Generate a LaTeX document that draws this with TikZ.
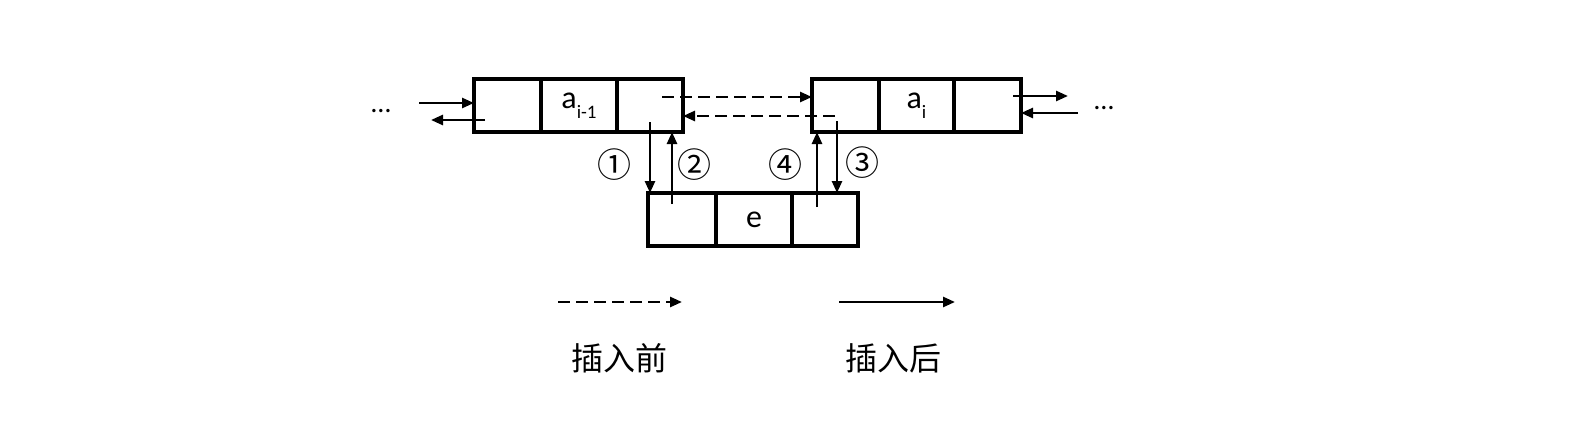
\documentclass[tikz,border=0pt]{standalone}
\usepackage{fontspec}
\setmainfont{Carlito}
\newfontfamily\cjkfont{Noto Sans CJK SC}
\usetikzlibrary{positioning,arrows.meta}

\newcommand{\subtxt}[1]{\raisebox{-5pt}{\fontsize{9.5}{9.5}\selectfont #1}}

\begin{document}
\begin{tikzpicture}[x=0.5pt,y=-0.5pt,
        cell/.style={draw,line width=1.6pt,minimum height=26.5pt,outer sep=0pt,inner sep=0pt,font=\fontsize{16}{16}\selectfont},
        link/.style={line width=1.3pt,-{Triangle[length=6pt,width=5pt]}},
        old/.style={link,dash pattern=on 6pt off 3pt},
        num/.style={font=\cjkfont\fontsize{17}{17}\selectfont},
        tag/.style={font=\cjkfont\fontsize{16}{16}\selectfont}]
                    \useasboundingbox (0,0) rectangle (1586,439);

                    % node a_{i-1}
                    \node[cell,minimum width=33.5pt] (p1) at (507.5,105.5) {};
                    \node[cell,minimum width=38pt,right=0pt of p1] (p2) {a\subtxt{i-1}};
                    \node[cell,minimum width=33pt,right=0pt of p2] (p3) {};

                    % node a_i
                    \node[cell,minimum width=33.5pt] (q1) at (845.5,105.5) {};
                    \node[cell,minimum width=37.5pt,right=0pt of q1] (q2) {a\subtxt{i}};
                    \node[cell,minimum width=33.5pt,right=0pt of q2] (q3) {};

                    % node e
                    \node[cell,minimum width=34pt] (r1) at (682,219.5) {};
                    \node[cell,minimum width=38pt,right=0pt of r1] (r2) {e};
                    \node[cell,minimum width=33pt,right=0pt of r2] (r3) {};

                    \node[font=\fontsize{14}{14}\selectfont] (dl) at (381,111) {\dots};
                    \node[font=\fontsize{14}{14}\selectfont] (dr) at (1104,108) {\dots};

                    \coordinate (l1) at (419,103);
                    \coordinate (l2) at (485,120);
                    \coordinate (l3) at (431,120);
                    \coordinate (m1) at (1013,96);
                    \coordinate (m2) at (1068,96);
                    \coordinate (m3) at (1078,113);
                    \draw[link] (l1) -- (p1.west |- l1);
                    \draw[link] (l2) -- (l3);
                    \draw[link] (m1) -- (m2);
                    \draw[link] (m3) -- (q3.east |- m3);

                    \coordinate (s1) at (662,97);
                    \coordinate (s2) at (835,116);
                    \draw[old] (s1) -- (q1.west |- s1);
                    \draw[old] (s2) -- (p3.east |- s2);

                    \coordinate (c1) at (650,122);
                    \coordinate (c2) at (672,204);
                    \coordinate (c3) at (837,121);
                    \coordinate (c4) at (817,207);
                    \draw[link] (c1) -- (c1 |- r1.north);
                    \draw[link] (c2) -- (c2 |- p3.south);
                    \draw[link] (c3) -- (c3 |- r3.north);
                    \draw[link] (c4) -- (c4 |- q1.south);

                    \node[num] (n1) at (614,165) {①};
                    \node[num] (n2) at (694,165) {②};
                    \node[num] (n3) at (862,163) {③};
                    \node[num] (n4) at (785,165) {④};

                    % legend
                    \coordinate (b1) at (558,302);
                    \coordinate (b2) at (682,302);
                    \coordinate (b3) at (839,302);
                    \coordinate (b4) at (955,302);
                    \draw[old] (b1) -- (b2);
                    \draw[link] (b3) -- (b4);
                    \node[tag] (before) at (619,358) {插入前};
                    \node[tag] (after) at (893,358) {插入后};
                \end{tikzpicture}
\end{document}
